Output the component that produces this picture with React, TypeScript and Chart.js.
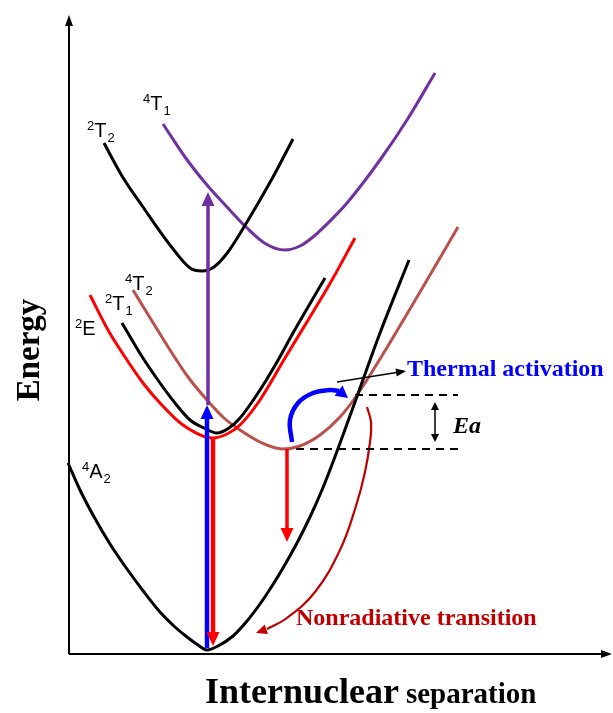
import React, { useEffect, useRef } from "react";
import { Chart, registerables } from "chart.js";
Chart.register(...registerables);

// Data units: x = internuclear separation (arb.), y = energy (arb.)
// 4A2 ground state
const a2X = [-1, 11, 24, 41, 58, 75, 91, 106, 118, 129, 138, 149, 164, 178, 191, 203, 214, 228, 241, 253, 264, 286, 311, 340];
const a2Y = [191, 164, 139, 110, 85, 62, 42, 27, 17, 9, 4, 8, 18, 33, 50, 68, 86, 111, 137, 164, 192, 252, 321, 394];
// 2T2
const t22X = [35, 53, 74, 101, 121, 133, 145, 159, 178, 204, 224];
const t22Y = [511, 478, 447, 409, 386, 383, 387, 402, 432, 477, 515];
// 4T1
const t41X = [94, 116, 138, 158, 178, 197, 216, 231, 244, 261, 278, 311, 338, 366];
const t41Y = [530, 497, 469, 447, 426, 410, 404, 408, 417, 433, 451, 494, 534, 581];
// 2E
const e2X = [21, 39, 58, 74, 91, 114, 144, 158, 171, 191, 216, 241, 263, 286];
const e2Y = [359, 324, 294, 271, 251, 229, 216, 220, 229, 254, 296, 337, 374, 416];
// 2T1
const t21X = [53, 72, 91, 106, 121, 135, 148, 160, 171, 191, 208, 224, 256];
const t21Y = [331, 299, 271, 251, 234, 226, 221, 226, 236, 264, 292, 321, 376];
// 4T2
const t42X = [64, 83, 101, 119, 138, 155, 171, 193, 213, 231, 251, 271, 286, 311, 341, 389];
const t42Y = [364, 333, 304, 277, 254, 236, 224, 211, 205, 208, 219, 237, 256, 295, 345, 427];
// Ea levels
const eaLowY = 205;
const eaHighY = 259;
const eaLowX = [213, 394];
const eaHighX = [286, 389];
// thermal activation swoosh (blue)
const thermX = [223, 221, 229, 244, 261, 270];
const thermY = [212, 234, 251, 261, 264, 263];
const thermTip = [279, 256];
// nonradiative swoosh (dark red)
const nonradX = [298, 302, 301, 296, 287, 271, 246, 218, 198];
const nonradY = [247, 232, 212, 182, 148, 104, 62, 36, 25];
const nonradTip = [187, 21];
// vertical transitions [x, yFrom, yTo]
const absBlue = [138, 6, 249];
const absPurple = [139, 249, 462];
const emRed = [144, 216, 8];
const em4T2 = [218, 205, 112];
// Ea double arrow [x, y1, y2]
const eaArrow = [366, 252, 212];
// thermal activation pointer [x0,y0,x1,y1]
const thermPointer = [268, 272, 337, 283];
// axes extents
const xAxisEnd = 543;
const yAxisEnd = 639;

const zip = (xs: number[], ys: number[]) => xs.map((x, i) => ({ x, y: ys[i] }));

const BROWN = "#b9524c";
const PURPLE = "#7030a0";
const DARKRED = "#c00000";

function curve(label: string, data: any[], color: string, width = 3, extra: any = {}) {
  return {
    label,
    data,
    showLine: true,
    borderColor: color,
    borderWidth: width,
    pointRadius: 0,
    fill: false,
    cubicInterpolationMode: "monotone",
    ...extra,
  };
}

const overlay = {
  id: "overlay",
  afterDatasetsDraw(chart: any) {
    const { ctx } = chart;
    const sx = chart.scales.x;
    const sy = chart.scales.y;
    const px = (v: number) => sx.getPixelForValue(v);
    const py = (v: number) => sy.getPixelForValue(v);

    const head = (tx: number, ty: number, ux: number, uy: number, len: number, w: number, color: string) => {
      ctx.beginPath();
      ctx.moveTo(tx, ty);
      ctx.lineTo(tx - ux * len - uy * w / 2, ty - uy * len + ux * w / 2);
      ctx.lineTo(tx - ux * len + uy * w / 2, ty - uy * len - ux * w / 2);
      ctx.closePath();
      ctx.fillStyle = color;
      ctx.fill();
    };
    const arrow = (x0: number, y0: number, x1: number, y1: number, color: string, lw: number, len: number, w: number, both = false) => {
      const X0 = px(x0), Y0 = py(y0), X1 = px(x1), Y1 = py(y1);
      const d = Math.hypot(X1 - X0, Y1 - Y0);
      const ux = (X1 - X0) / d, uy = (Y1 - Y0) / d;
      ctx.save();
      ctx.strokeStyle = color;
      ctx.lineWidth = lw;
      ctx.lineCap = "butt";
      ctx.beginPath();
      ctx.moveTo(both ? X0 + ux * len * 0.8 : X0, both ? Y0 + uy * len * 0.8 : Y0);
      ctx.lineTo(X1 - ux * len * 0.8, Y1 - uy * len * 0.8);
      ctx.stroke();
      head(X1, Y1, ux, uy, len, w, color);
      if (both) head(X0, Y0, -ux, -uy, len, w, color);
      ctx.restore();
    };

    // axes
    arrow(0, 0, xAxisEnd, 0, "#000", 2, 11, 8);
    arrow(0, 0, 0, yAxisEnd, "#000", 2, 11, 8);

    // vertical transitions
    arrow(absPurple[0], absPurple[1], absPurple[0], absPurple[2], PURPLE, 3.5, 14, 13);
    arrow(absBlue[0], absBlue[1], absBlue[0], absBlue[2], "#0000ff", 4.5, 14, 13);
    arrow(emRed[0], emRed[1], emRed[0], emRed[2], "#ff0000", 4.5, 14, 13);
    arrow(em4T2[0], em4T2[1], em4T2[0], em4T2[2], "#ff0000", 3.5, 14, 13);
    // Ea
    arrow(eaArrow[0], eaArrow[1], eaArrow[0], eaArrow[2], "#000", 1.5, 8, 8, true);
    // pointer
    arrow(thermPointer[0], thermPointer[1], thermPointer[2], thermPointer[3], "#000", 1.5, 10, 8);

    // swoosh heads
    {
      const n = thermX.length - 1;
      const bx = px(thermX[n]), by = py(thermY[n]);
      const tx = px(thermTip[0]), ty = py(thermTip[1]);
      const d = Math.hypot(tx - bx, ty - by);
      head(tx, ty, (tx - bx) / d, (ty - by) / d, 12, 13, "#0000ff");
    }
    {
      const n = nonradX.length - 1;
      const bx = px(nonradX[n]), by = py(nonradY[n]);
      const tx = px(nonradTip[0]), ty = py(nonradTip[1]);
      const d = Math.hypot(tx - bx, ty - by);
      head(tx, ty, (tx - bx) / d, (ty - by) / d, 11, 10, DARKRED);
    }

    // term labels
    const term = (sup: string, main: string, sub: string, xd: number, yd: number) => {
      const X = px(xd), Y = py(yd);
      ctx.save();
      ctx.fillStyle = "#000";
      ctx.textBaseline = "alphabetic";
      ctx.textAlign = "left";
      ctx.font = '13px "Liberation Sans", Arial, sans-serif';
      ctx.fillText(sup, X, Y - 7);
      const w1 = ctx.measureText(sup).width;
      ctx.font = '20px "Liberation Sans", Arial, sans-serif';
      ctx.fillText(main, X + w1, Y);
      const w2 = ctx.measureText(main).width;
      ctx.font = '13px "Liberation Sans", Arial, sans-serif';
      ctx.fillText(sub, X + w1 + w2 + 1, Y + 5);
      ctx.restore();
    };
    term("4", "T", "1", 74, 544);
    term("2", "T", "2", 18, 517);
    term("4", "T", "2", 56, 364);
    term("2", "T", "1", 36, 344);
    term("2", "E", "", 6, 319);
    term("4", "A", "2", 13, 176);

    // annotations
    ctx.save();
    ctx.textBaseline = "alphabetic";
    ctx.textAlign = "left";
    ctx.fillStyle = "#0000ff";
    ctx.font = 'bold 24px "Liberation Serif", "Times New Roman", serif';
    ctx.fillText("Thermal activation", px(338), py(278));
    ctx.fillStyle = DARKRED;
    ctx.fillText("Nonradiative transition", px(227), py(29));
    ctx.fillStyle = "#000";
    ctx.font = 'italic bold 24px "Liberation Serif", "Times New Roman", serif';
    ctx.fillText("Ea", px(384), py(221));

    ctx.font = 'bold 36px "Liberation Serif", "Times New Roman", serif';
    ctx.fillText("Internuclear", px(136), py(-49));
    const wI = ctx.measureText("Internuclear ").width;
    ctx.font = 'bold 29px "Liberation Serif", "Times New Roman", serif';
    ctx.fillText("separation", px(136) + wI - 2, py(-49));

    ctx.translate(px(-39), py(304));
    ctx.rotate(-Math.PI / 2);
    ctx.textAlign = "center";
    ctx.textBaseline = "middle";
    ctx.font = 'bold 33px "Liberation Serif", "Times New Roman", serif';
    ctx.fillText("Energy", 0, 0);
    ctx.restore();
  },
};

export default function App() {
  const ref = useRef<HTMLCanvasElement>(null);
  useEffect(() => {
    document.body.style.margin = "0";
    const chart = new Chart(ref.current as HTMLCanvasElement, {
      type: "scatter",
      data: {
        datasets: [
          curve("4A2", zip(a2X, a2Y), "#000"),
          curve("2T2", zip(t22X, t22Y), "#000"),
          curve("4T1", zip(t41X, t41Y), PURPLE),
          curve("2E", zip(e2X, e2Y), "#ff0000"),
          curve("2T1", zip(t21X, t21Y), "#000"),
          curve("4T2", zip(t42X, t42Y), BROWN),
          curve("EaLow", zip(eaLowX, [eaLowY, eaLowY]), "#000", 2, { borderDash: [8, 6], cubicInterpolationMode: "default", tension: 0 }),
          curve("EaHigh", zip(eaHighX, [eaHighY, eaHighY]), "#000", 2, { borderDash: [8, 6], cubicInterpolationMode: "default", tension: 0 }),
          curve("thermal", zip(thermX, thermY), "#0000ff", 4.5, { cubicInterpolationMode: "default", tension: 0.4 }),
          curve("nonrad", zip(nonradX, nonradY), DARKRED, 2.2, { cubicInterpolationMode: "default", tension: 0.4 }),
        ],
      },
      options: {
        responsive: false,
        animation: false,
        devicePixelRatio: 1,
        layout: { padding: 0 },
        plugins: { legend: { display: false }, tooltip: { enabled: false } },
        scales: {
          x: { type: "linear", display: false, min: -69, max: 544 },
          y: { type: "linear", display: false, min: -59, max: 654 },
        },
      } as any,
      plugins: [overlay],
    });
    return () => chart.destroy();
  }, []);
  return (
    <canvas
      ref={ref}
      width={613}
      height={713}
      style={{ display: "block", position: "fixed", left: 0, top: 0 }}
    />
  );
}
